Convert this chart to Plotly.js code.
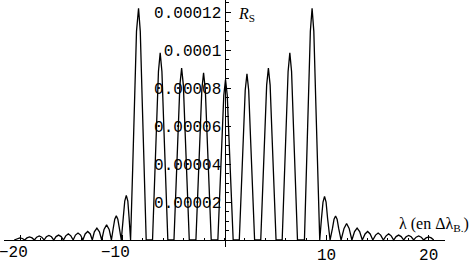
<!DOCTYPE html>
<html>
<head>
<meta charset="utf-8">
<script src="https://cdn.plot.ly/plotly-3.0.1.min.js"></script>
<style>
html,body{margin:0;padding:0;background:#fff;}
#chart{width:469px;height:268px;}
</style>
</head>
<body>
<div id="chart"></div>
<script>
// Wavelength detuning (in units of Δλ_B)
const lambdaVals = [
  -20.6,
  -20.3, -20.05, -19.8, -19.575,
  -19.35, -19.1, -18.85, -18.625,
  -18.4, -18.15, -17.9, -17.675,
  -17.45, -17.2, -16.95, -16.725,
  -16.5, -16.25, -16.0, -15.775,
  -15.55, -15.3, -15.05, -14.825,
  -14.6, -14.35, -14.1, -13.875,
  -13.65, -13.4, -13.15, -12.95,
  -12.75, -12.5, -12.25, -12.025,
  -11.8, -11.55, -11.3, -11.075,
  -10.9, -10.75, -10.6, -10.45, -10.3, -10.11,
  -9.92, -9.77, -9.62, -9.47, -9.35, -9.2,
  -9.0, -8.81, -8.62, -8.42, -8.25, -8.06, -7.87, -7.67,
  -7.05, -6.85, -6.66, -6.47, -6.3, -6.13, -5.94, -5.75, -5.55,
  -4.95, -4.75, -4.56, -4.37, -4.2, -4.03, -3.84, -3.65, -3.45,
  -2.8, -2.6, -2.41, -2.22, -2.05, -1.88, -1.69, -1.5, -1.3,
  -0.65, -0.45, -0.26, -0.07, 0.1, 0.27, 0.46, 0.65, 0.85,
  1.45, 1.65, 1.84, 2.03, 2.2, 2.37, 2.56, 2.75, 2.95,
  3.55, 3.75, 3.94, 4.13, 4.3, 4.47, 4.66, 4.85, 5.05,
  5.65, 5.85, 6.04, 6.23, 6.4, 6.57, 6.76, 6.95, 7.15,
  7.83, 8.03, 8.22, 8.41, 8.58, 8.75, 8.94, 9.13, 9.33,
  9.5, 9.65, 9.8, 9.95, 10.1, 10.34,
  10.58, 10.73, 10.88, 11.03, 11.18, 11.42,
  11.71, 11.96, 12.21, 12.48,
  12.74, 12.99, 13.24, 13.5,
  13.77, 14.02, 14.27, 14.53,
  14.8, 15.05, 15.3, 15.56,
  15.83, 16.08, 16.33, 16.57,
  16.81, 17.06, 17.31, 17.55,
  17.79, 18.04, 18.29, 18.53,
  18.77, 19.02, 19.27, 19.51,
  19.75, 20.0, 20.25, 20.5
];
// Reflectivity R_S, in units of 1e-5
const rsE5 = [
  0,
  0.08, 0.11, 0.08, 0,
  0.11, 0.16, 0.11, 0,
  0.15, 0.21, 0.15, 0,
  0.17, 0.24, 0.17, 0,
  0.18, 0.26, 0.18, 0,
  0.22, 0.32, 0.22, 0,
  0.26, 0.37, 0.26, 0,
  0.32, 0.45, 0.32, 0,
  0.43, 0.62, 0.43, 0,
  0.56, 0.80, 0.56, 0,
  0.62, 1.1, 1.27, 1.1, 0.62, 0,
  1.15, 2.05, 2.35, 2.05, 1.2, 0,
  3.66, 7.32, 10.98, 12.2, 10.98, 7.32, 3.66, 0,
  0, 2.96, 5.91, 8.87, 9.85, 8.87, 5.91, 2.96, 0,
  0, 2.72, 5.43, 8.15, 9.05, 8.15, 5.43, 2.72, 0,
  0, 2.64, 5.28, 7.92, 8.8, 7.92, 5.28, 2.64, 0,
  0, 2.54, 5.07, 7.61, 8.45, 7.61, 5.07, 2.54, 0,
  0, 2.63, 5.25, 7.88, 8.75, 7.88, 5.25, 2.63, 0,
  0, 2.72, 5.43, 8.15, 9.05, 8.15, 5.43, 2.72, 0,
  0, 2.96, 5.91, 8.87, 9.85, 8.87, 5.91, 2.96, 0,
  0, 3.66, 7.32, 10.98, 12.2, 10.98, 7.32, 3.66, 0,
  1.13, 2.0, 2.3, 2.0, 1.13, 0,
  0.62, 1.1, 1.26, 1.1, 0.62, 0,
  0.61, 0.87, 0.61, 0,
  0.44, 0.63, 0.44, 0,
  0.32, 0.45, 0.32, 0,
  0.26, 0.37, 0.26, 0,
  0.22, 0.32, 0.22, 0,
  0.18, 0.26, 0.18, 0,
  0.17, 0.24, 0.17, 0,
  0.15, 0.21, 0.15, 0,
  0.11, 0.16, 0.11, 0
];
const xTickPos = [10, 20];
const xTickPosText = ['10', '20'];
const xTickNeg = [-20, -10];
const xTickNegText = ['\u221220', '\u221210'];
const yTickVals = [0.00002, 0.00004, 0.00006, 0.00008, 0.0001, 0.00012];
const yTickText = ['0.00002', '0.00004', '0.00006', '0.00008', '0.0001', '0.00012'];

const rsVals = rsE5.map(v => v * 1e-5);

const monoFont = {family: 'Liberation Mono, Courier New, monospace', size: 16, color: '#000'};
const serifFont = {family: 'Liberation Serif, Times New Roman, serif', size: 16, color: '#000'};
const xRange = [-21.6, 21.6];
const yRange = [-3.68e-6, 1.2632e-4];
const xPos = 3.68 / 130.0;

const traces = [
  {x: lambdaVals, y: rsVals, type: 'scatter', mode: 'lines',
   line: {color: '#000', width: 1.3}, hoverinfo: 'skip', xaxis: 'x', yaxis: 'y'},
  {x: lambdaVals, y: rsVals, type: 'scatter', mode: 'lines',
   line: {color: 'rgba(0,0,0,0)', width: 0}, hoverinfo: 'skip', xaxis: 'x2', yaxis: 'y', showlegend: false}
];

const layout = {
  width: 469, height: 268,
  margin: {l: 4, r: 24, t: 0, b: 21, pad: 0},
  paper_bgcolor: '#fff', plot_bgcolor: '#fff',
  showlegend: false,
  xaxis: {
    range: xRange, anchor: 'free', position: xPos,
    showline: true, linecolor: '#000', linewidth: 1,
    showgrid: false, zeroline: false,
    ticks: 'inside', ticklen: 5, tickcolor: '#000', tickwidth: 1,
    tickmode: 'array', tickvals: xTickPos, ticktext: xTickPosText,
    tickfont: monoFont, ticklabeloverflow: 'allow',
    minor: {tickmode: 'linear', tick0: 0, dtick: 2, ticks: 'inside', ticklen: 2.5, tickcolor: '#000', showgrid: false},
    layer: 'below traces'
  },
  xaxis2: {
    range: xRange, overlaying: 'x', anchor: 'free', position: xPos, side: 'bottom',
    showline: false, showgrid: false, zeroline: false,
    ticks: 'inside', ticklen: 5, tickcolor: '#000', tickwidth: 1,
    tickmode: 'array', tickvals: xTickNeg, ticktext: xTickNegText,
    ticklabelshift: -7, ticklabeloverflow: 'allow',
    tickfont: monoFont,
    layer: 'below traces'
  },
  yaxis: {
    range: yRange, anchor: 'free', position: 0.5,
    showline: true, linecolor: '#000', linewidth: 1,
    showgrid: false, zeroline: false,
    ticks: 'inside', ticklen: 5, tickcolor: '#000', tickwidth: 1,
    tickmode: 'array', tickvals: yTickVals, ticktext: yTickText,
    tickfont: monoFont, ticklabeloverflow: 'allow',
    minor: {tickmode: 'linear', tick0: 0, dtick: 5e-6, ticks: 'inside', ticklen: 3, tickcolor: '#000', showgrid: false},
    layer: 'below traces'
  },
  annotations: [
    {text: '<i>R</i><sub>S</sub>', xref: 'x', yref: 'y', x: 1.1, y: 1.245e-4,
     xanchor: 'left', yanchor: 'top', showarrow: false, font: serifFont},
    {text: '\u03bb (en \u0394\u03bb<sub>B.</sub>)', xref: 'x', yref: 'y', x: 16.9, y: 8.4e-6,
     xanchor: 'left', yanchor: 'middle', showarrow: false, font: serifFont}
  ]
};

Plotly.newPlot('chart', traces, layout, {displayModeBar: false, staticPlot: true});
</script>
</body>
</html>
